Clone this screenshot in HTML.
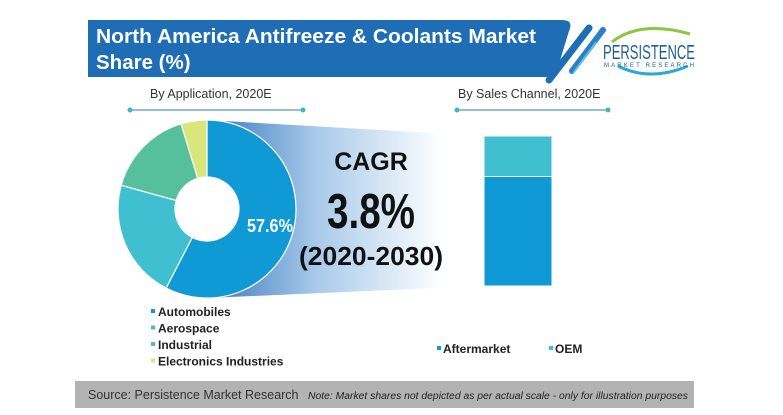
<!DOCTYPE html>
<html><head><meta charset="utf-8"><style>
html,body{margin:0;padding:0;background:#fff;}
body{width:783px;height:410px;overflow:hidden;position:relative;font-family:"Liberation Sans",sans-serif;}
</style></head><body>
<svg width="783" height="410" viewBox="0 0 783 410">
<defs>
<linearGradient id="fun" x1="0" x2="1" y1="0" y2="0">
<stop offset="0" stop-color="#3a78c0"/><stop offset="0.4" stop-color="#a9cbea"/><stop offset="0.85" stop-color="#ffffff"/>
</linearGradient>
</defs>
<!-- title banner -->
<path d="M88 20 H562 Q574 20 569 31 L555 77 H88 Z" fill="#1f6db4"/>
<text x="96" y="43" fill="#fff" font-size="20.5" font-weight="bold" textLength="440" lengthAdjust="spacingAndGlyphs">North America Antifreeze &amp; Coolants Market</text>
<text x="96" y="69" fill="#fff" font-size="20.5" font-weight="bold">Share (%)</text>
<line x1="589" y1="28" x2="549" y2="80" stroke="#1f6db4" stroke-width="7" stroke-linecap="round"/>
<line x1="603" y1="30" x2="572" y2="71" stroke="#2a80c8" stroke-width="6" stroke-linecap="round"/>
<line x1="596" y1="42" x2="573" y2="73" stroke="#5bc8dc" stroke-width="1.5"/>
<!-- logo -->
<g>
<path d="M612 42 Q640 20 690 34" stroke="#8cc63f" stroke-width="3" fill="none"/>
<path d="M618 66 Q650 82 688 66" stroke="#29a9d6" stroke-width="3" fill="none"/>
<text x="603" y="59" font-size="20" fill="#1f5f9a" textLength="92" lengthAdjust="spacingAndGlyphs">PERSISTENCE</text>
<text x="604" y="67" font-size="6" fill="#1f5f9a" textLength="90" lengthAdjust="spacing">MARKET RESEARCH</text>
</g>
<!-- subtitles -->
<text x="150" y="98" font-size="12.5" fill="#333">By Application, 2020E</text>
<line x1="130" y1="110" x2="303" y2="110" stroke="#2a7fb0" stroke-width="1"/>
<circle cx="130" cy="110" r="2.5" fill="#3fb6c8"/><circle cx="303" cy="110" r="2.5" fill="#3fb6c8"/>
<text x="458" y="98" font-size="12.5" fill="#333">By Sales Channel, 2020E</text>
<line x1="457" y1="110" x2="608" y2="110" stroke="#2a7fb0" stroke-width="1"/>
<circle cx="457" cy="110" r="2.5" fill="#3fb6c8"/><circle cx="608" cy="110" r="2.5" fill="#3fb6c8"/>
<!-- funnel -->
<path d="M207 120 L484 136 L484 286 L207 298 Z" fill="url(#fun)"/>
<circle cx="207" cy="209" r="32" fill="#fff"/>
<g id="donut"></g>
<g id="bar"></g>
<text x="247" y="232" font-size="18" font-weight="bold" fill="#fff" textLength="46" lengthAdjust="spacingAndGlyphs">57.6%</text>
<!-- CAGR -->
<text x="371" y="170" text-anchor="middle" font-size="25" font-weight="bold" fill="#111">CAGR</text>
<text x="327" y="228" font-size="49" font-weight="bold" fill="#111" textLength="88" lengthAdjust="spacingAndGlyphs">3.8%</text>
<text x="299" y="265" font-size="26" font-weight="bold" fill="#111" textLength="144" lengthAdjust="spacingAndGlyphs">(2020-2030)</text>
<!-- legends -->
<g id="leg1"></g>
<g id="leg2"></g>
<!-- footer -->
<rect x="75" y="381" width="619" height="27" fill="#b3b3b3"/>
<text x="88" y="399" font-size="12.5" fill="#333">Source: Persistence Market Research</text>
<text x="308" y="399" font-size="10" font-style="italic" fill="#222" textLength="380" lengthAdjust="spacingAndGlyphs">Note: Market shares not depicted as per actual scale - only for illustration purposes</text>
</svg>
<script>
const appCategories = ["Automobiles","Aerospace","Industrial","Electronics Industries"];
const appShares = [57.6, 21.7, 16.0, 4.7];
const appColors = ["#0f9ad6","#3fbfd0","#56bf9c","#d9e67c"];
const channelCategories = ["Aftermarket","OEM"];
const channelShares = [73, 27];
const channelColors = ["#0f9ad6","#3fbfd0"];

const NS="http://www.w3.org/2000/svg";
function mk(t,a,p){const e=document.createElementNS(NS,t);for(const k in a)e.setAttribute(k,a[k]);p.appendChild(e);return e;}
const cx=207,cy=209,R=89,r=32;
function pt(rad,ang){return [cx+rad*Math.sin(ang),cy-rad*Math.cos(ang)];}
const dg=document.getElementById('donut');
const tot=appShares.reduce((a,b)=>a+b,0);
let a0=0;
appShares.forEach((v,i)=>{
  const a1=a0+v/tot*2*Math.PI;const lg=(a1-a0)>Math.PI?1:0;
  const p1=pt(R,a0),p2=pt(R,a1),p3=pt(r,a1),p4=pt(r,a0);
  const e=mk('path',{d:`M${p1} A${R} ${R} 0 ${lg} 1 ${p2} L${p3} A${r} ${r} 0 ${lg} 0 ${p4} Z`,fill:appColors[i],stroke:'#fff','stroke-width':1.2},dg);
  
  
  a0=a1;
});
const bg=document.getElementById('bar');
const bx=484,bw=68,btop=136,bbot=286;
const ctot=channelShares.reduce((a,b)=>a+b,0);
let yb=bbot;
channelShares.forEach((v,i)=>{
  const h=v/ctot*(bbot-btop);
  const e=mk('rect',{x:bx,y:yb-h,width:bw,height:h,fill:channelColors[i],stroke:'#fff','stroke-width':1},bg);
  
  
  yb-=h;
});
const l1=document.getElementById('leg1');
appCategories.forEach((c,i)=>{
  const g=mk('g',{},l1);
  
  
  mk('rect',{x:151,y:309+i*16.5,width:4,height:4,fill:appColors[i]},g);
  const t=mk('text',{x:158,y:316+i*16.5,'font-size':12,'font-weight':'bold',fill:'#222'},g);t.textContent=c;
});
const l2=document.getElementById('leg2');
channelCategories.forEach((c,i)=>{
  const g=mk('g',{},l2);
  
  
  const x=437+i*112;
  mk('rect',{x:x,y:346,width:4,height:4,fill:channelColors[i]},g);
  const t=mk('text',{x:x+6,y:353,'font-size':12,'font-weight':'bold',fill:'#222'},g);t.textContent=c;
});
</script>
</body></html>
